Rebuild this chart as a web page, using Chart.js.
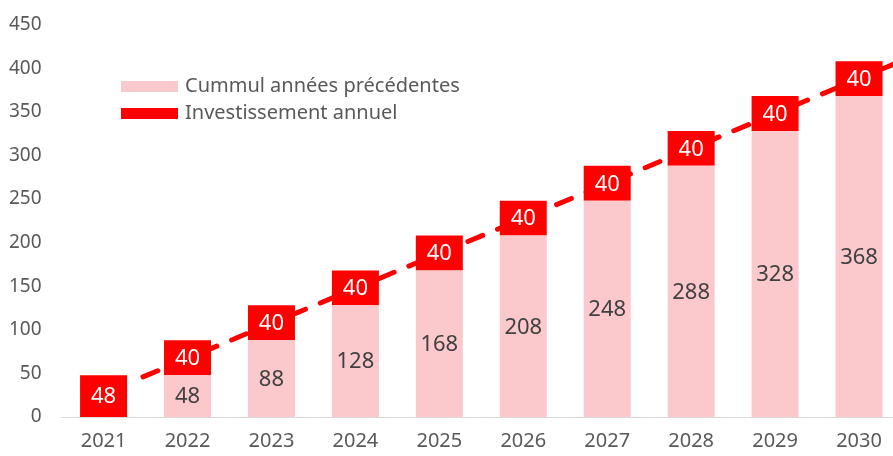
<!DOCTYPE html>
<html>
<head>
<meta charset="utf-8">
<script src="https://cdn.jsdelivr.net/npm/chart.js@4"></script>
<style>
  html, body { margin: 0; padding: 0; background: #fff; overflow: hidden; }
  #wrap { width: 893px; height: 456px; overflow: hidden; }
</style>
</head>
<body>
<div id="wrap"><canvas id="invest" width="901" height="456"></canvas></div>
<script>
// data
const years = ["2021", "2022", "2023", "2024", "2025", "2026", "2027", "2028", "2029", "2030"];
const cumul = [0, 48, 88, 128, 168, 208, 248, 288, 328, 368]; // cummul années précédentes
const annuel = [48, 40, 40, 40, 40, 40, 40, 40, 40, 40]; // investissement annuel
// dashed trend line, start and end (category index, value)
const trendX = [0.47, 9.5];
const trendY = [46, 408];
const yTicks = [0, 450, 50]; // min, max, step

const FONT = "'Noto Sans', sans-serif";
const GREY = "#595959";
const PINK = "#fbc9cb";
const RED = "#ff0000";

const trendPts = trendX.map(function(x, i) { return { x: x, y: trendY[i] }; });

// value labels inside the bars
const barLabels = {
	id: "barLabels",
	afterDatasetsDraw(chart) {
		const ctx = chart.ctx;
		ctx.save();
		ctx.font = "22px " + FONT;
		ctx.textAlign = "center";
		ctx.textBaseline = "middle";
		[0, 1].forEach(function(di) {
			const meta = chart.getDatasetMeta(di);
			const vals = chart.data.datasets[di].data;
			meta.data.forEach(function(bar, i) {
				if (!vals[i]) return;
				ctx.fillStyle = di == 0 ? "#404040" : "#ffffff";
				ctx.fillText(vals[i], bar.x, (bar.y + bar.base) / 2 + 1);
			});
		});
		ctx.restore();
	}
};

// legend drawn inside the plot, top-left
const innerLegend = {
	id: "innerLegend",
	afterDraw(chart) {
		const ctx = chart.ctx;
		const items = [
			{ text: chart.data.datasets[0].label, color: PINK },
			{ text: chart.data.datasets[1].label, color: RED }
		];
		ctx.save();
		ctx.font = "20px " + FONT;
		ctx.textBaseline = "middle";
		items.forEach(function(it, i) {
			const y = 86.5 + i * 27;
			ctx.fillStyle = it.color;
			ctx.fillRect(121, y - 5.5, 57, 11);
			ctx.fillStyle = GREY;
			ctx.fillText(it.text, 185, y);
		});
		ctx.restore();
	}
};

const chart = new Chart(document.getElementById("invest"), {
	type: "bar",
	data: {
		labels: years,
		datasets: [
			{
				label: "Cummul années précédentes",
				data: cumul,
				backgroundColor: PINK,
				stack: "s",
				grouped: false,
				order: 1
			},
			{
				label: "Investissement annuel",
				data: annuel,
				backgroundColor: RED,
				stack: "s",
				grouped: false,
				order: 1
			},
			{
				type: "line",
				label: "tendance",
				data: trendPts,
				borderColor: RED,
				borderWidth: 5,
				borderDash: [16, 16],
				borderCapStyle: "round",
				pointRadius: 0,
				fill: false,
				xAxisID: "xl",
				yAxisID: "yl",
				order: 2
			}
		]
	},
	options: {
		responsive: false,
		animation: false,
		devicePixelRatio: 1,
		categoryPercentage: 1,
		barPercentage: 0.56,
		layout: { padding: { top: 24.5, right: 0, bottom: 0, left: 0 } },
		plugins: {
			legend: { display: false },
			tooltip: { enabled: false }
		},
		scales: {
			x: {
				stacked: true,
				grid: { display: false, drawTicks: false },
				border: { color: "#d9d9d9", width: 1 },
				ticks: { color: GREY, font: { family: FONT, size: 20 }, padding: 12, maxRotation: 0 },
				afterFit(scale) { scale.height = 39; }
			},
			xl: {
				type: "linear",
				display: false,
				offset: false,
				min: -0.5,
				max: 9.5
			},
			y: {
				stacked: true,
				min: yTicks[0],
				max: yTicks[1],
				grid: { display: false, drawTicks: false },
				border: { display: false },
				ticks: { stepSize: yTicks[2], color: GREY, font: { family: FONT, size: 19 }, padding: 20 },
				afterFit(scale) { scale.width = 61.6; scale.paddingTop = 0; scale.paddingBottom = 0; }
			},
			yl: {
				display: false,
				min: yTicks[0],
				max: yTicks[1]
			}
		}
	},
	plugins: [barLabels, innerLegend]
});
</script>
</body>
</html>
